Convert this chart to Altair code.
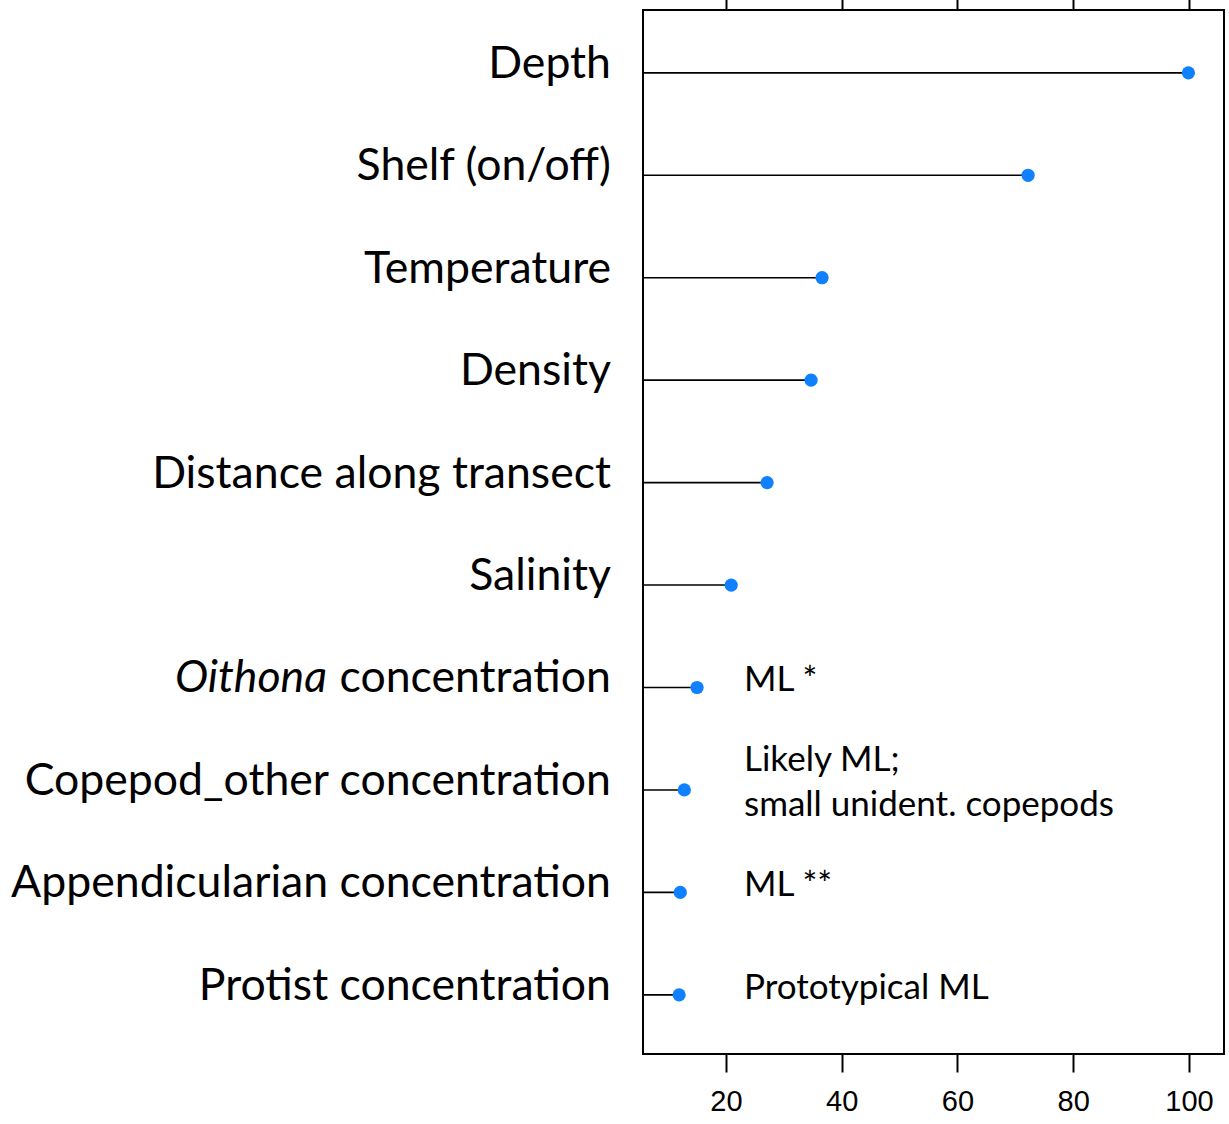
import altair as alt
import pandas as pd

names = ["Depth", "Shelf (on/off)", "Temperature", "Density", "Distance along transect",
         "Salinity", "Oithona concentration", "Copepod_other concentration",
         "Appendicularian concentration", "Protist concentration"]
label_italic = ["", "", "", "", "", "", "Oithona", "", "", ""]
label_plain = ["Depth", "Shelf (on/off)", "Temperature", "Density", "Distance along transect",
               "Salinity", "concentration", "Copepod_other concentration",
               "Appendicularian concentration", "Protist concentration"]
importance = [99.9, 72.2, 36.6, 34.7, 27.1, 20.9, 15.0, 12.8, 12.1, 11.9]
notes = ["", "", "", "", "", "", "ML *", "Likely ML;\nsmall unident. copepods", "ML **", "Prototypical ML"]
x_ticks = [20, 40, 60, 80, 100]
x_domain = [5.66, 106.05]

df = pd.DataFrame({"name": names, "ital": label_italic, "plain": label_plain,
                   "value": importance, "note": notes})

xscale = alt.Scale(domain=x_domain, nice=False, zero=False)
yscale = alt.Scale(type="point", padding=0.5955, align=0.515)
y = alt.Y("name:N", sort=names, scale=yscale, axis=None)

base = alt.Chart(df)

rules = base.mark_rule(color="black", strokeWidth=1.6).encode(
    x=alt.X("value:Q", scale=xscale, title=None,
            axis=alt.Axis(orient="bottom", values=x_ticks, domain=False, grid=False,
                          tickSize=18, tickWidth=2, tickColor="black",
                          labelFont="Liberation Sans", labelFontSize=29, labelColor="black",
                          labelPadding=15)),
    x2=alt.datum(x_domain[0]),
    y=y,
)

points = base.mark_circle(size=175, color="#0F80FF", opacity=1).encode(
    x=alt.X("value:Q", scale=xscale, title=None,
            axis=alt.Axis(orient="top", values=x_ticks, labels=False, domain=False, grid=False,
                          tickSize=18, tickWidth=2, tickColor="black")),
    y=y,
)

labels = base.mark_text(align="right", baseline="middle", font="Lato", fontSize=44.6,
                        color="black", dy=-8).encode(
    x=alt.value(-32), y=y, text="plain:N")

ital = base.transform_filter(alt.datum.ital != "").mark_text(
    align="right", baseline="middle", font="Lato", fontSize=44.6, fontStyle="italic",
    color="black", dy=-8).encode(
    x=alt.value(-316), y=y, text="ital:N")

note_single = base.transform_filter(
    (alt.datum.note != "") & (alt.expr.indexof(alt.datum.note, "\n") < 0)
).mark_text(
    align="left", baseline="middle", font="Lato", fontSize=35, color="black",
    dy=-7).encode(
    x=alt.value(101), y=y, text="note:N")

note_multi = base.transform_filter(
    alt.expr.indexof(alt.datum.note, "\n") >= 0
).mark_text(
    align="left", baseline="middle", font="Lato", fontSize=35, color="black",
    lineBreak="\n", lineHeight=45, dy=-30).encode(
    x=alt.value(101), y=y, text="note:N")

chart = alt.layer(rules, points, labels, ital, note_single, note_multi).resolve_axis(
    x="independent"
).properties(
    width=581, height=1044,
    autosize=alt.AutoSizeParams(type="none"),
    padding={"left": 643, "top": 10, "right": 5, "bottom": 70},
    background="white",
).configure_view(stroke="black", strokeWidth=2)

chart.save("out.html", embed_options={"renderer": "svg", "actions": False})
